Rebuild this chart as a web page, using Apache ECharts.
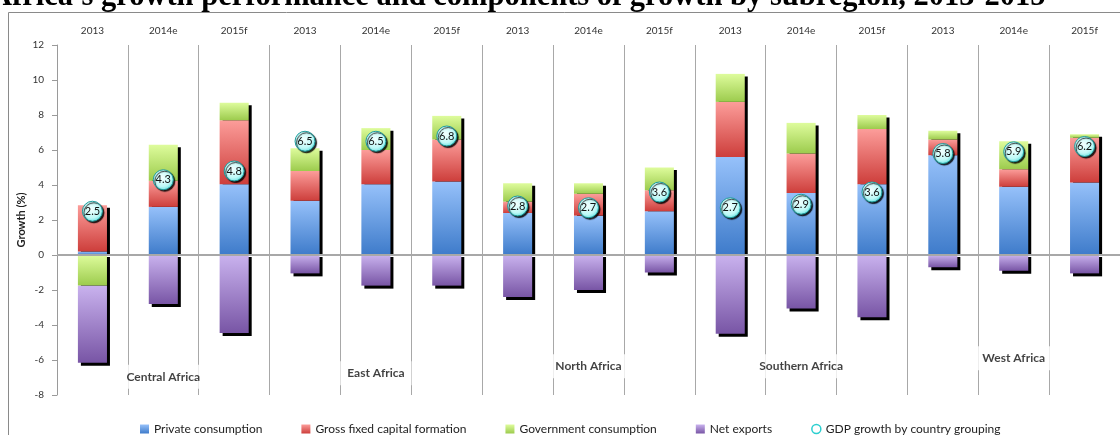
<!DOCTYPE html>
<html>
<head>
<meta charset="utf-8">
<script src="https://cdn.jsdelivr.net/npm/echarts@6/dist/echarts.min.js"></script>
<style>
  html, body { margin: 0; padding: 0; background: #fff; }
  #chart { width: 1120px; height: 435px; }
</style>
</head>
<body>
<div id="chart"></div>
<script>
// Growth components by subregion (percentage points)
const regions = ['Central Africa', 'East Africa', 'North Africa', 'Southern Africa', 'West Africa'];
const categories = [
  '2013', '2014e', '2015f',
  '2013', '2014e', '2015f',
  '2013', '2014e', '2015f',
  '2013', '2014e', '2015f',
  '2013', '2014e', '2015f'
];
const privateConsumption = [0.2, 2.75, 4.05, 3.1, 4.05, 4.2, 2.4, 2.25, 2.5, 5.6, 3.55, 4.05, 5.7, 3.9, 4.15];
const grossFixedCapital  = [2.65, 1.5, 3.65, 1.7, 1.95, 2.4, 0.65, 1.25, 1.2, 3.15, 2.25, 3.15, 0.9, 1.0, 2.55];
const governmentConsumption = [-1.75, 2.05, 1.0, 1.3, 1.25, 1.35, 1.05, 0.6, 1.3, 1.6, 1.75, 0.8, 0.5, 1.6, 0.2];
const netExports = [-4.4, -2.8, -4.45, -1.05, -1.75, -1.75, -2.4, -2.0, -1.0, -4.5, -3.05, -3.55, -0.7, -0.9, -1.05];
const gdpGrowth = [2.5, 4.3, 4.8, 6.5, 6.5, 6.8, 2.8, 2.7, 3.6, 2.7, 2.9, 3.6, 5.8, 5.9, 6.2];
const yTicks = { min: -8, max: 12, step: 2 };

const FONT = 'Lato, "Open Sans", sans-serif';
const BAR_RATIO = 0.41;

function grad(top, bottom) {
  return new echarts.graphic.LinearGradient(0, 0, 0, 1, [
    { offset: 0, color: top },
    { offset: 1, color: bottom }
  ]);
}

// positive and negative stack totals, used for the drop shadow behind each column
const components = [privateConsumption, grossFixedCapital, governmentConsumption, netExports];
const stackTotals = categories.map((_, i) => {
  let pos = 0, neg = 0;
  components.forEach(arr => { if (arr[i] >= 0) pos += arr[i]; else neg += arr[i]; });
  return [i, pos, neg];
});

// group name anchors: middle column of each subregion, placed low in the plot
const groupAnchorY = [-6.95, -6.75, -6.35, -6.35, -5.9];
const groupLabels = regions.map((name, k) => ({ value: [3 * k + 1, groupAnchorY[k]], name }));

const chart = echarts.init(document.getElementById('chart'), null, { renderer: 'canvas' });

const barBase = {
  type: 'bar',
  stack: 'growth',
  barWidth: (BAR_RATIO * 100) + '%',
  z: 2,
  emphasis: { disabled: true }
};

chart.setOption({
  animation: false,
  backgroundColor: '#ffffff',
  textStyle: { fontFamily: FONT },
  graphic: [
    {
      type: 'rect',
      silent: true,
      z: 0,
      shape: { x: 8.5, y: 12.5, width: 1200, height: 500 },
      style: { fill: 'none', stroke: '#8a8a8a', lineWidth: 1 }
    },
    {
      type: 'text',
      silent: true,
      left: -10,
      top: -18,
      style: {
        text: "Africa's growth performance and components of growth by subregion, 2013-2015",
        font: 'bold 30.5px "Liberation Serif", "Times New Roman", serif',
        fill: '#000'
      }
    }
  ],
  grid: { left: 57, top: 45, width: 1070, height: 350, containLabel: false },
  legend: {
    left: 135,
    top: 418,
    itemWidth: 9,
    itemHeight: 9,
    itemGap: 39,
    selectedMode: false,
    textStyle: { fontFamily: FONT, fontSize: 12, color: '#222' },
    data: [
      { name: 'Private consumption', icon: 'rect' },
      { name: 'Gross fixed capital formation', icon: 'rect' },
      { name: 'Government consumption', icon: 'rect' },
      { name: 'Net exports', icon: 'rect' },
      { name: 'GDP growth by country grouping', icon: 'circle',
        itemStyle: { color: '#ffffff', borderColor: '#2ccfd0', borderWidth: 1.5, opacity: 1 } }
    ]
  },
  xAxis: {
    type: 'category',
    data: categories,
    position: 'top',
    boundaryGap: true,
    axisLine: { show: false },
    axisTick: { show: false },
    axisLabel: { interval: 0, fontFamily: FONT, fontSize: 10, color: '#333', margin: 9 },
    splitLine: { show: true, interval: 0, lineStyle: { color: '#a8a8a8', width: 1 } }
  },
  yAxis: {
    type: 'value',
    min: yTicks.min,
    max: yTicks.max,
    interval: yTicks.step,
    name: 'Growth (%)',
    nameLocation: 'middle',
    nameGap: 30,
    nameMoveOverlap: false,
    nameTextStyle: { fontFamily: FONT, fontSize: 11, fontWeight: 'bold', color: '#222' },
    axisLine: { show: true, lineStyle: { color: '#9a9a9a', width: 1 } },
    axisTick: { show: true, length: 5, lineStyle: { color: '#9a9a9a' } },
    axisLabel: { fontFamily: FONT, fontSize: 10, color: '#333', margin: 13 },
    splitLine: { show: false }
  },
  series: [
    {
      name: 'shadow',
      type: 'custom',
      z: 1,
      silent: true,
      data: stackTotals,
      renderItem: function (params, api) {
        const i = api.value(0);
        const pos = api.value(1);
        const neg = api.value(2);
        const w = api.size([1, 0])[0] * BAR_RATIO;
        const top = api.coord([i, pos]);
        const zero = api.coord([i, 0]);
        const bot = api.coord([i, neg]);
        const x = zero[0] - w / 2 + 3;
        const children = [];
        if (pos > 0) {
          children.push({ type: 'rect', shape: { x: x, y: top[1] + 2.5, width: w, height: zero[1] - top[1] - 2 },
            style: { fill: '#000' } });
        }
        if (neg < 0) {
          children.push({ type: 'rect', shape: { x: x, y: zero[1] + 2, width: w, height: bot[1] - zero[1] + 1 },
            style: { fill: '#000' } });
        }
        return { type: 'group', children: children };
      }
    },
    Object.assign({}, barBase, {
      name: 'Private consumption',
      data: privateConsumption,
      itemStyle: { color: grad('#96c1fa', '#3e7bca') }
    }),
    Object.assign({}, barBase, {
      name: 'Gross fixed capital formation',
      data: grossFixedCapital,
      itemStyle: { color: grad('#fc9d9a', '#cd3e3b') }
    }),
    Object.assign({}, barBase, {
      name: 'Government consumption',
      data: governmentConsumption,
      itemStyle: { color: grad('#defc9c', '#9ccb4d') }
    }),
    Object.assign({}, barBase, {
      name: 'Net exports',
      data: netExports,
      itemStyle: { color: grad('#c9b2ee', '#7855a5') },
      markLine: {
        silent: true,
        symbol: 'none',
        label: { show: false },
        lineStyle: { color: '#a8a8a8', width: 2, type: 'solid' },
        data: [{ yAxis: 0 }]
      }
    }),
    {
      name: 'GDP growth by country grouping',
      type: 'scatter',
      z: 5,
      data: gdpGrowth,
      symbol: 'circle',
      symbolSize: 20,
      itemStyle: {
        opacity: 1,
        color: new echarts.graphic.RadialGradient(0.45, 0.4, 0.6, [
          { offset: 0, color: '#f2fffe' },
          { offset: 0.7, color: '#bff9f7' },
          { offset: 1, color: '#6fe4e4' }
        ]),
        borderColor: '#1f9c9c',
        borderWidth: 1,
        shadowColor: 'rgba(0,0,0,0.85)',
        shadowBlur: 1,
        shadowOffsetX: 1.5,
        shadowOffsetY: 1.5
      },
      label: {
        show: true,
        position: 'inside',
        fontFamily: FONT,
        fontSize: 11,
        color: '#111',
        formatter: p => p.value.toFixed(1)
      },
      emphasis: { disabled: true }
    },
    {
      name: 'regions',
      type: 'scatter',
      z: 3,
      silent: true,
      symbolSize: 0,
      data: groupLabels,
      label: {
        show: true,
        position: 'inside',
        formatter: p => p.name,
        fontFamily: FONT,
        fontSize: 12,
        fontWeight: 'bold',
        color: '#111',
        backgroundColor: '#ffffff',
        padding: [6, 7]
      }
    }
  ]
});
</script>
</body>
</html>
